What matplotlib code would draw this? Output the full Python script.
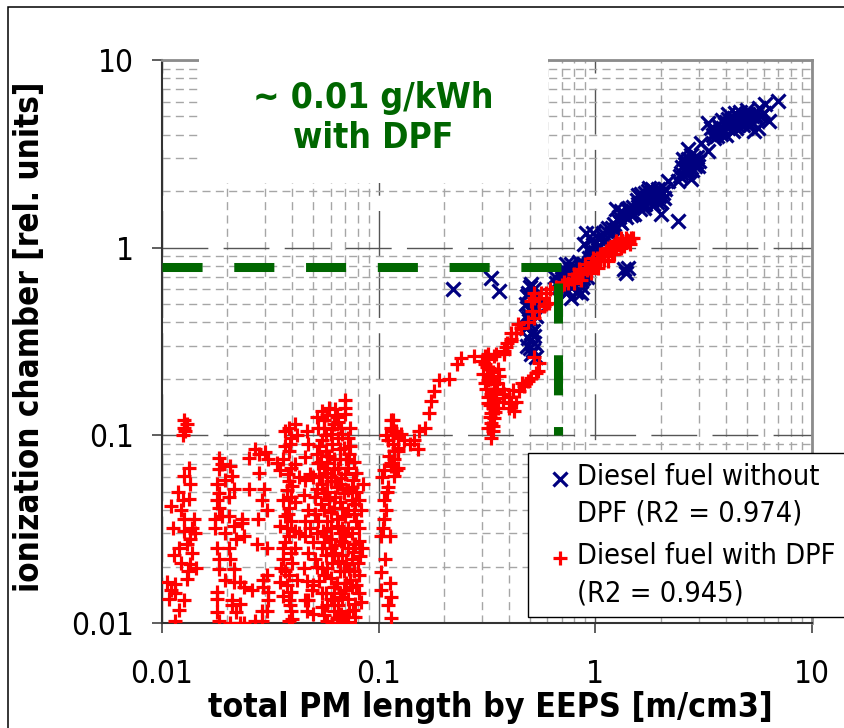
import os
import matplotlib
matplotlib.use('Agg')
import matplotlib.pyplot as plt
from matplotlib import font_manager
from matplotlib.patches import Rectangle
from matplotlib.ticker import FixedLocator, FixedFormatter, LogLocator, NullFormatter
from matplotlib.lines import Line2D
from matplotlib.legend_handler import HandlerLine2D

# ---- data (x = EEPS length, y = ionization chamber) ----
# Diesel fuel without DPF (blue x)
nodpf_left = [(0.221, 0.605), (0.331, 0.69), (0.36, 0.59)]
nodpf_col = [(0.507, 0.643), (0.49, 0.575), (0.517, 0.54), (0.48, 0.50), (0.523, 0.48),
             (0.49, 0.445), (0.507, 0.41), (0.48, 0.375), (0.517, 0.36), (0.49, 0.33),
             (0.523, 0.31), (0.50, 0.293), (0.507, 0.272), (0.535, 0.26), (0.50, 0.62),
             (0.52, 0.60), (0.485, 0.55), (0.51, 0.52), (0.495, 0.47), (0.53, 0.43),
             (0.50, 0.39), (0.52, 0.34), (0.485, 0.30), (0.515, 0.285), (0.53, 0.56),
             (0.49, 0.42), (0.505, 0.35)]
nodpf_mid = [(0.72, 0.73), (0.75, 0.59), (0.80, 0.78), (0.86, 0.67), (0.735, 0.82),
             (0.86, 0.57), (0.775, 0.54), (0.735, 0.57), (0.735, 0.75), (0.775, 0.82),
             (0.80, 0.64), (0.835, 0.59), (0.88, 0.69), (0.89, 0.82), (0.93, 0.885),
             (0.96, 0.96), (0.99, 1.05), (1.03, 1.13), (1.09, 1.19), (1.15, 1.28),
             (1.22, 1.34), (1.29, 1.45), (1.36, 1.52), (1.43, 1.63), (0.91, 1.19),
             (0.98, 1.20), (0.89, 1.05), (1.35, 0.77), (1.39, 0.73), (1.42, 0.78),
             (0.70, 0.68), (0.68, 0.62), (0.66, 0.65), (0.70, 0.60), (0.78, 0.70),
             (0.82, 0.75), (0.84, 0.84), (0.90, 0.76), (0.95, 0.88), (1.00, 0.95),
             (1.05, 1.02), (1.10, 1.10), (1.18, 1.18), (1.25, 1.25), (1.32, 1.36),
             (0.93, 0.96), (0.96, 1.10), (0.68, 0.72), (0.65, 0.70), (0.71, 0.66),
             (0.74, 0.70), (0.77, 0.62), (0.79, 0.74), (0.83, 0.66), (0.81, 0.58),
             (0.87, 0.62), (0.92, 0.70), (0.94, 0.80), (0.97, 0.90), (0.87, 0.78),
             (0.76, 0.77), (1.12, 1.22), (1.20, 1.28), (1.28, 1.38), (1.38, 1.45),
             (1.46, 1.50), (1.07, 1.15), (1.40, 1.60)]
nodpf_high = [(1.25, 1.61), (1.32, 1.57), (1.51, 1.52), (1.63, 1.94), (1.76, 2.09),
              (1.87, 2.01), (1.97, 1.89), (2.02, 1.52), (2.42, 1.39), (2.42, 2.27),
              (2.77, 2.33), (2.58, 2.80), (2.77, 2.90), (2.98, 2.73), (2.68, 3.37),
              (3.08, 3.63), (3.43, 4.36), (3.54, 3.85), (4.10, 4.36), (4.37, 4.93),
              (4.70, 4.75), (4.10, 5.17), (5.07, 5.17), (5.63, 4.36), (5.70, 5.57),
              (6.34, 4.75), (6.98, 6.06), (6.10, 5.84), (5.40, 4.20), (3.80, 4.04),
              (3.30, 3.28), (2.49, 2.51), (1.81, 1.78), (1.58, 1.71), (1.68, 1.63),
              (2.17, 2.27), (1.55, 1.80), (1.65, 1.75), (1.72, 1.85), (1.80, 1.95),
              (1.90, 1.85), (1.95, 2.05), (2.05, 1.95), (1.70, 1.70), (1.85, 1.70),
              (2.00, 1.75), (1.60, 1.60), (1.45, 1.55), (1.75, 2.00), (2.10, 2.05),
              (2.50, 2.70), (2.60, 2.60), (2.70, 2.75), (2.80, 2.60), (2.90, 2.85),
              (2.65, 2.50), (2.55, 2.95), (2.85, 3.00), (3.00, 2.90), (2.75, 3.10),
              (3.60, 4.20), (3.70, 4.50), (3.90, 4.30), (4.00, 4.70), (4.20, 4.60),
              (4.30, 4.20), (4.50, 4.50), (4.60, 4.90), (4.80, 4.50), (4.90, 5.00),
              (5.10, 4.80), (5.30, 5.00), (5.50, 4.90), (5.20, 4.50), (4.00, 4.00),
              (4.40, 5.20), (3.85, 4.80), (4.65, 5.30), (5.00, 5.40), (5.80, 5.00),
              (6.00, 5.20), (3.50, 4.00), (3.30, 4.60), (1.50, 1.65), (1.62, 1.85),
              (1.78, 1.80), (1.88, 1.92), (1.92, 1.75), (2.08, 1.85), (1.70, 1.95),
              (1.83, 2.05), (1.58, 1.90), (1.66, 1.68), (2.45, 2.40), (2.62, 2.70),
              (2.72, 2.55), (2.88, 2.72), (2.95, 3.05), (2.58, 2.58), (2.82, 2.85),
              (2.68, 2.95), (3.55, 4.10), (3.75, 4.35), (3.95, 4.55), (4.15, 4.45),
              (4.25, 4.80), (4.45, 4.35), (4.55, 4.70), (4.75, 4.65), (4.85, 4.85),
              (5.05, 4.95), (5.25, 4.70), (5.45, 5.10), (4.35, 4.65), (3.65, 3.95),
              (4.95, 4.60), (5.60, 5.20), (4.10, 4.85)]

# Diesel fuel with DPF (red +)
dpf_a = [(0.0127, 0.120), (0.0127, 0.110), (0.0125, 0.100), (0.0130, 0.115), (0.0128, 0.105),
         (0.0133, 0.067), (0.0126, 0.061), (0.0133, 0.046), (0.0110, 0.042), (0.0127, 0.036),
         (0.0141, 0.036), (0.0112, 0.032), (0.0127, 0.031), (0.0138, 0.032), (0.0142, 0.030),
         (0.0130, 0.0265), (0.0114, 0.0229), (0.0138, 0.0236), (0.0135, 0.0207), (0.0144, 0.0196),
         (0.0130, 0.0172), (0.0106, 0.0165), (0.0115, 0.0162), (0.0110, 0.0150), (0.0115, 0.0145),
         (0.0126, 0.0133), (0.0115, 0.0103), (0.0122, 0.040), (0.0135, 0.028), (0.0120, 0.025),
         (0.0118, 0.050), (0.0135, 0.055), (0.0125, 0.045), (0.0132, 0.019), (0.0122, 0.021),
         (0.0108, 0.0135), (0.0120, 0.0118)]
dpf_b = [(0.0184, 0.076), (0.0184, 0.066), (0.0206, 0.069), (0.021, 0.061), (0.0179, 0.055),
         (0.0184, 0.049), (0.0203, 0.047), (0.0179, 0.045), (0.0184, 0.041), (0.0175, 0.036),
         (0.019, 0.037), (0.0203, 0.037), (0.0214, 0.033), (0.0234, 0.036), (0.0234, 0.034),
         (0.0175, 0.032), (0.018, 0.025), (0.0203, 0.025), (0.0184, 0.022), (0.0206, 0.022),
         (0.0184, 0.0195), (0.0214, 0.0195), (0.0214, 0.0165), (0.023, 0.0165), (0.0239, 0.0155),
         (0.026, 0.015), (0.018, 0.0146), (0.018, 0.0135), (0.021, 0.0133), (0.023, 0.0127),
         (0.021, 0.0125), (0.0179, 0.0114), (0.0184, 0.0103), (0.0206, 0.0100), (0.023, 0.0100),
         (0.0239, 0.0100), (0.0268, 0.0103), (0.0289, 0.0103), (0.019, 0.070), (0.0195, 0.058),
         (0.0215, 0.052), (0.0195, 0.030), (0.022, 0.028), (0.0195, 0.017), (0.022, 0.0115)]
dpf_c = [(0.0253, 0.076), (0.0281, 0.080), (0.031, 0.075), (0.0339, 0.071), (0.0281, 0.063),
         (0.0253, 0.052), (0.0296, 0.052), (0.0289, 0.045), (0.0305, 0.040), (0.0278, 0.036),
         (0.0239, 0.029), (0.0273, 0.0265), (0.0305, 0.025), (0.0305, 0.018), (0.0294, 0.017),
         (0.0294, 0.0155), (0.031, 0.0146), (0.031, 0.0133), (0.0289, 0.0116), (0.0305, 0.0116),
         (0.027, 0.085), (0.030, 0.082)]
dpf_d = [(0.0385, 0.110), (0.0395, 0.097), (0.0385, 0.083), (0.0395, 0.067), (0.0386, 0.057),
         (0.0377, 0.051), (0.0395, 0.047), (0.0385, 0.041), (0.0368, 0.037), (0.0395, 0.035),
         (0.0377, 0.032), (0.0386, 0.029), (0.0362, 0.025), (0.0395, 0.0235), (0.0356, 0.0197),
         (0.0386, 0.018), (0.0377, 0.016), (0.0395, 0.0146), (0.0385, 0.0133), (0.0395, 0.0116),
         (0.0386, 0.0103), (0.0465, 0.105), (0.047, 0.090), (0.0455, 0.077), (0.0455, 0.058),
         (0.045, 0.048), (0.047, 0.040), (0.0455, 0.035), (0.0455, 0.029), (0.047, 0.0235),
         (0.045, 0.0197), (0.0465, 0.0168), (0.0455, 0.0133), (0.037, 0.105), (0.039, 0.090),
         (0.036, 0.075), (0.038, 0.062), (0.040, 0.054), (0.036, 0.045), (0.038, 0.038),
         (0.041, 0.031), (0.037, 0.027), (0.040, 0.021), (0.037, 0.019), (0.039, 0.0125),
         (0.036, 0.014), (0.042, 0.100), (0.043, 0.060), (0.043, 0.030), (0.042, 0.017),
         (0.048, 0.062), (0.048, 0.032), (0.049, 0.015), (0.035, 0.065), (0.041, 0.070),
         (0.035, 0.033), (0.041, 0.044), (0.036, 0.022), (0.041, 0.025), (0.035, 0.0165),
         (0.040, 0.0105), (0.037, 0.088), (0.041, 0.115)]
dpf_e = [(0.0545, 0.135), (0.059, 0.139), (0.056, 0.120), (0.0525, 0.110), (0.062, 0.115),
         (0.067, 0.110), (0.065, 0.097), (0.0545, 0.094), (0.057, 0.083), (0.069, 0.086),
         (0.0625, 0.075), (0.0525, 0.071), (0.072, 0.067), (0.058, 0.063), (0.067, 0.059),
         (0.079, 0.063), (0.0545, 0.055), (0.064, 0.053), (0.075, 0.053), (0.081, 0.045),
         (0.051, 0.047), (0.059, 0.045), (0.068, 0.041), (0.056, 0.040), (0.064, 0.036),
         (0.077, 0.038), (0.0525, 0.035), (0.0605, 0.032), (0.072, 0.032), (0.081, 0.032),
         (0.057, 0.029), (0.067, 0.0275), (0.078, 0.0265), (0.0545, 0.025), (0.0625, 0.0235),
         (0.075, 0.022), (0.082, 0.0228), (0.051, 0.022), (0.058, 0.0197), (0.069, 0.019),
         (0.081, 0.018), (0.053, 0.0168), (0.064, 0.0164), (0.075, 0.0155), (0.057, 0.0144),
         (0.068, 0.0137), (0.081, 0.0144), (0.0545, 0.0121), (0.062, 0.0116), (0.073, 0.0116),
         (0.058, 0.0103), (0.066, 0.0100), (0.072, 0.0101), (0.047, 0.0133), (0.0465, 0.0116),
         (0.050, 0.0112), (0.0605, 0.102), (0.072, 0.097), (0.056, 0.067), (0.065, 0.067),
         (0.0605, 0.057), (0.069, 0.049), (0.056, 0.049), (0.0625, 0.041), (0.072, 0.040),
         (0.0555, 0.031), (0.066, 0.030), (0.072, 0.025), (0.0605, 0.025), (0.065, 0.0215),
         (0.0545, 0.0197), (0.077, 0.019), (0.0605, 0.0174), (0.071, 0.0163), (0.0625, 0.0133),
         (0.078, 0.0127), (0.067, 0.0112), (0.078, 0.0107), (0.081, 0.0275), (0.070, 0.155),
         (0.070, 0.140), (0.070, 0.130)]
dpf_e2 = [(0.052, 0.125), (0.058, 0.128), (0.064, 0.125), (0.061, 0.108), (0.057, 0.100),
          (0.068, 0.102), (0.053, 0.088), (0.061, 0.090), (0.066, 0.085), (0.073, 0.080),
          (0.059, 0.078), (0.066, 0.075), (0.054, 0.072), (0.062, 0.066), (0.070, 0.062),
          (0.076, 0.058), (0.053, 0.061), (0.060, 0.060), (0.066, 0.055), (0.072, 0.051),
          (0.079, 0.050), (0.052, 0.052), (0.058, 0.050), (0.063, 0.047), (0.075, 0.045),
          (0.066, 0.044), (0.054, 0.043), (0.060, 0.039), (0.070, 0.037), (0.079, 0.035),
          (0.058, 0.035), (0.065, 0.033), (0.075, 0.030), (0.052, 0.030), (0.060, 0.028),
          (0.070, 0.029), (0.056, 0.027), (0.063, 0.026), (0.076, 0.024), (0.068, 0.023),
          (0.057, 0.023), (0.052, 0.020), (0.061, 0.021), (0.071, 0.021), (0.080, 0.021),
          (0.066, 0.019), (0.056, 0.018), (0.074, 0.017), (0.062, 0.0155), (0.069, 0.015),
          (0.079, 0.016), (0.055, 0.0145), (0.060, 0.0135), (0.072, 0.0135), (0.065, 0.0125),
          (0.076, 0.0118), (0.056, 0.011), (0.064, 0.0105), (0.070, 0.0108), (0.061, 0.0100),
          (0.083, 0.040), (0.084, 0.025), (0.083, 0.013), (0.085, 0.055), (0.050, 0.060),
          (0.051, 0.038), (0.050, 0.027), (0.050, 0.016), (0.074, 0.088), (0.077, 0.072),
          (0.063, 0.138), (0.056, 0.110), (0.074, 0.110), (0.078, 0.043), (0.068, 0.032),
          (0.058, 0.0125), (0.066, 0.0145), (0.073, 0.0195), (0.062, 0.023), (0.069, 0.027),
          (0.063, 0.057), (0.058, 0.071), (0.071, 0.075), (0.052, 0.080), (0.065, 0.118)]
dpf_f = [(0.114, 0.110), (0.123, 0.097), (0.118, 0.083), (0.114, 0.071), (0.120, 0.065),
         (0.111, 0.053), (0.106, 0.045), (0.108, 0.040), (0.106, 0.036), (0.103, 0.029),
         (0.113, 0.029), (0.103, 0.0187), (0.103, 0.015), (0.113, 0.0163), (0.114, 0.0137),
         (0.114, 0.0106), (0.114, 0.120), (0.118, 0.106), (0.111, 0.094), (0.123, 0.083),
         (0.106, 0.065), (0.108, 0.100), (0.116, 0.090), (0.112, 0.078), (0.104, 0.060),
         (0.109, 0.050), (0.105, 0.032), (0.107, 0.022), (0.110, 0.0125)]
dpf_trail = [(0.117, 0.120), (0.120, 0.106), (0.127, 0.102), (0.131, 0.094), (0.139, 0.090),
             (0.146, 0.094), (0.154, 0.106), (0.163, 0.110), (0.152, 0.085), (0.123, 0.086),
             (0.118, 0.075), (0.114, 0.069), (0.123, 0.067), (0.118, 0.061), (0.170, 0.132),
             (0.175, 0.153), (0.180, 0.173), (0.190, 0.196), (0.212, 0.200), (0.229, 0.241),
             (0.241, 0.259), (0.274, 0.266), (0.308, 0.266), (0.342, 0.266), (0.380, 0.270),
             (0.388, 0.294), (0.410, 0.328), (0.432, 0.350)]
dpf_v = [(0.380, 0.167), (0.410, 0.148), (0.423, 0.135), (0.446, 0.173), (0.470, 0.184),
         (0.507, 0.203), (0.545, 0.221), (0.552, 0.244), (0.523, 0.260), (0.308, 0.241),
         (0.324, 0.229), (0.304, 0.213), (0.331, 0.208), (0.321, 0.196), (0.342, 0.188),
         (0.314, 0.177), (0.331, 0.167), (0.349, 0.159), (0.321, 0.149), (0.338, 0.140),
         (0.331, 0.132), (0.342, 0.124), (0.331, 0.117), (0.321, 0.110), (0.338, 0.106),
         (0.331, 0.097), (0.361, 0.208), (0.376, 0.177), (0.357, 0.140), (0.315, 0.230),
         (0.336, 0.218), (0.326, 0.200), (0.345, 0.170), (0.318, 0.160), (0.340, 0.152),
         (0.328, 0.145), (0.346, 0.133), (0.325, 0.125), (0.336, 0.112), (0.352, 0.190),
         (0.310, 0.190), (0.355, 0.225), (0.300, 0.250), (0.320, 0.255), (0.400, 0.160),
         (0.430, 0.150), (0.400, 0.140), (0.460, 0.190), (0.490, 0.195), (0.530, 0.215),
         (0.415, 0.175), (0.375, 0.150)]
dpf_rise = [(0.321, 0.272), (0.349, 0.272), (0.380, 0.283), (0.410, 0.320), (0.432, 0.350),
            (0.456, 0.375), (0.490, 0.400), (0.523, 0.424), (0.552, 0.460), (0.582, 0.490),
            (0.613, 0.510), (0.507, 0.520), (0.552, 0.540), (0.594, 0.575), (0.523, 0.570),
            (0.520, 0.540), (0.560, 0.570), (0.590, 0.500), (0.510, 0.460), (0.440, 0.390),
            (0.410, 0.350), (0.390, 0.310)]
dpf_band = [(0.62, 0.60), (0.66, 0.62), (0.70, 0.63), (0.72, 0.66), (0.75, 0.65), (0.78, 0.68),
            (0.80, 0.72), (0.82, 0.70), (0.85, 0.74), (0.87, 0.72), (0.90, 0.78), (0.92, 0.76),
            (0.95, 0.80), (0.97, 0.84), (1.00, 0.82), (1.02, 0.88), (1.05, 0.86), (1.08, 0.92),
            (1.10, 0.90), (1.12, 0.96), (1.15, 0.94), (1.18, 1.00), (1.20, 0.97), (1.22, 1.03),
            (1.25, 1.01), (1.28, 1.06), (1.30, 1.03), (1.33, 1.09), (1.36, 1.06), (1.40, 1.10),
            (1.43, 1.08), (1.46, 1.12), (1.38, 1.13), (1.32, 1.12), (1.25, 1.08), (1.15, 1.00),
            (1.05, 0.93), (0.98, 0.88), (0.90, 0.82), (0.84, 0.77), (0.95, 0.76), (1.10, 0.86),
            (1.20, 0.93), (1.35, 1.02), (1.45, 1.05), (0.72, 0.64), (0.80, 0.65), (0.86, 0.67),
            (0.96, 0.73), (1.03, 0.78), (1.15, 0.85), (1.22, 0.93), (1.32, 1.00), (1.42, 1.09),
            (1.50, 1.13)]

# green DPF marker line
dpf_level_y = 0.787
dpf_level_x = 0.675
dpf_line_x_end = 0.70
dpf_vert_top = 0.65
dpf_vert_bottom = 0.10

xticks = [0.01, 0.1, 1, 10]
yticks = [0.01, 0.1, 1, 10]
tick_labels = ['0.01', '0.1', '1', '10']
leg_labels = ['Diesel fuel without\nDPF (R2 = 0.974)', 'Diesel fuel with DPF\n(R2 = 0.945)']
note = '~ 0.01 g/kWh\nwith DPF'

nodpf = nodpf_left + nodpf_col + nodpf_mid + nodpf_high
dpf = (dpf_a + dpf_b + dpf_c + dpf_d + dpf_e + dpf_e2 + dpf_f + dpf_trail + dpf_v
       + dpf_rise + dpf_band)


# ---- fonts: Tahoma-like, condensed DejaVu if it is there ----
def cond_font(name):
    for f in font_manager.fontManager.ttflist:
        if os.path.basename(f.fname) == name:
            return f.fname
    return None

reg = cond_font('DejaVuSansCondensed.ttf')
bld = cond_font('DejaVuSansCondensed-Bold.ttf')
scale = 1.0 if reg else 0.9

def fp(size, bold=False):
    path = bld if bold else reg
    if path:
        return font_manager.FontProperties(fname=path, size=size)
    return font_manager.FontProperties(family='DejaVu Sans', size=size * scale,
                                       weight='bold' if bold else 'normal')


# legend marker sits on the first line of its two-line label
class TopLineHandler(HandlerLine2D):
    def __init__(self, lift, **kw):
        super().__init__(**kw)
        self.lift = lift

    def create_artists(self, legend, orig_handle, xdescent, ydescent, width, height,
                       fontsize, trans):
        arts = super().create_artists(legend, orig_handle, xdescent, ydescent, width,
                                      height, fontsize, trans)
        for a in arts:
            a.set_ydata([y + self.lift for y in a.get_ydata()])
        return arts


fig = plt.figure(figsize=(8.45, 7.28), dpi=100)
ax = fig.add_axes([162 / 845, 1 - 623 / 728, 650 / 845, 563 / 728])
ax.set_xscale('log')
ax.set_yscale('log')
ax.set_xlim(0.01, 10)
ax.set_ylim(0.01, 10)
ax.set_axisbelow(True)

ax.xaxis.set_major_locator(FixedLocator(xticks))
ax.xaxis.set_major_formatter(FixedFormatter(tick_labels))
ax.yaxis.set_major_locator(FixedLocator(yticks))
ax.yaxis.set_major_formatter(FixedFormatter(tick_labels))
for a in (ax.xaxis, ax.yaxis):
    a.set_minor_locator(LogLocator(base=10, subs=range(2, 10)))
    a.set_minor_formatter(NullFormatter())

ax.grid(True, which='major', color='#555555', lw=1.0, linestyle=(0, (33, 11)))
ax.grid(True, which='minor', color='#a6a6a6', lw=1.0, linestyle=(0, (5.8, 3.8)))
ax.tick_params(which='minor', length=0)
ax.tick_params(which='major', direction='out', length=7.2, width=1.1, color='#333333')
ax.tick_params(axis='x', which='major', pad=19)
ax.tick_params(axis='y', which='major', pad=13)
for lbl in ax.get_xticklabels() + ax.get_yticklabels():
    lbl.set_fontproperties(fp(22.7))

for s in ('left', 'bottom'):
    ax.spines[s].set_color('#333333')
    ax.spines[s].set_linewidth(1.5)
for s in ('top', 'right'):
    ax.spines[s].set_color('#8c8c8c')
    ax.spines[s].set_linewidth(2.0)

blue = '#000080'
red = '#ff0000'
green = '#006600'
mk = dict(linestyle='none', ms=10.3, mew=2.3)
ax.plot([p[0] for p in nodpf], [p[1] for p in nodpf], marker='x', color=blue, zorder=3, **mk)
ax.plot([p[0] for p in dpf], [p[1] for p in dpf], marker='+', color=red, zorder=3, **mk)

ax.plot([0.01, dpf_line_x_end], [dpf_level_y, dpf_level_y], color=green, lw=6.5,
        linestyle=(0, (4.44, 3.51)), dash_capstyle='butt', zorder=4)
ax.plot([dpf_level_x, dpf_level_x], [dpf_vert_top, dpf_vert_bottom], color=green, lw=6.5,
        linestyle=(0, (4.44, 3.51)), dash_capstyle='butt', zorder=4)

# white box behind the note hides grid and top spine
ax.add_patch(Rectangle((0.057, 0.7815), 0.537, 0.25, transform=ax.transAxes,
                       facecolor='white', edgecolor='none', clip_on=False, zorder=5))
ax.text(0.3246, 0.897, note, transform=ax.transAxes, ha='center', va='center',
        multialignment='center', color=green, fontproperties=fp(25.5, True),
        linespacing=1.2, zorder=6)

handles = [Line2D([], [], marker='x', color=blue, **mk),
           Line2D([], [], marker='+', color=red, **mk)]
leg = ax.legend(handles, leg_labels, loc='upper left', bbox_to_anchor=(528 / 845, 1 - 453 / 728),
                bbox_transform=fig.transFigure, frameon=True, fancybox=False, edgecolor='black',
                framealpha=1, borderpad=0.35, handlelength=1.5, handletextpad=-0.15,
                labelspacing=0.5, borderaxespad=0, prop=fp(20.7),
                handler_map={Line2D: TopLineHandler(lift=12.5)})
for t in leg.get_texts():
    t.set_linespacing(1.4)
leg.get_frame().set_linewidth(1.0)
leg.set_zorder(10)

fig.text(490 / 845, 1 - 708 / 728, 'total PM length by EEPS [m/cm3]', ha='center', va='center',
         fontproperties=fp(24.3, True))
fig.text(30 / 845, 1 - 337 / 728, 'ionization chamber [rel. units]', ha='center', va='center',
         rotation=90, fontproperties=fp(23.8, True))

fig.patches.append(Rectangle((8 / 845, -0.1), 1.2, 1.1 - 7 / 728, transform=fig.transFigure,
                             fill=False, edgecolor='black', lw=1.1))

fig.savefig('out.png', dpi=100)
